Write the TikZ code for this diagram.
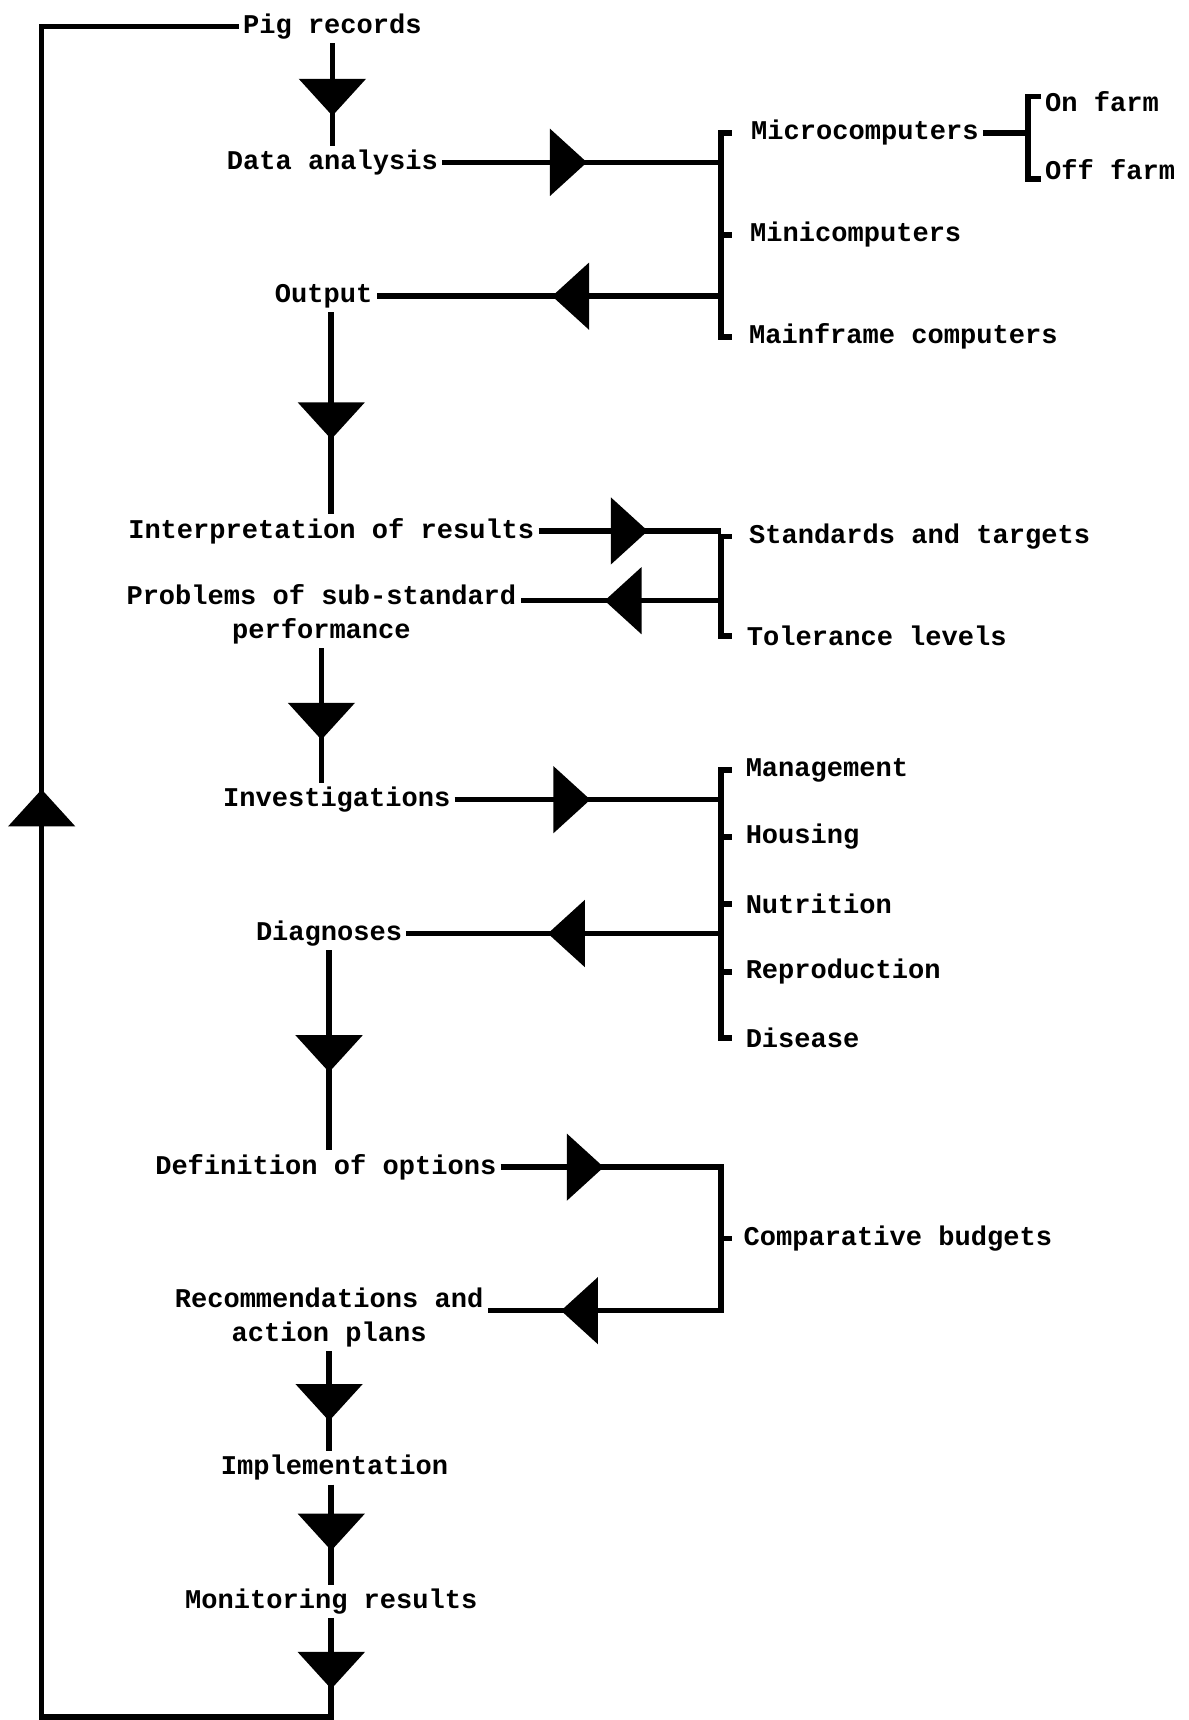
\documentclass[tikz,border=0pt]{standalone}
\usepackage{fontspec}
\setmonofont{Liberation Mono}
\usetikzlibrary{arrows.meta,calc,decorations.markings}

\begin{document}
\begin{tikzpicture}[x=0.1097mm,y=-0.1097mm]

		\tikzstyle{every node}=[font=\ttfamily\bfseries\fontsize{7.7}{9.7}\selectfont, inner sep=1pt]
		\tikzstyle{line}=[line width=1.6pt]
		\tikzstyle{item}=[anchor=west]
		\tikzset{tri/.tip={Triangle[length=3.7mm,width=6.6mm]},
			flow/.style={line, postaction={decorate}, decoration={markings, mark=at position #1 with {\arrow{tri}}}},
			flowtwo/.style 2 args={line, postaction={decorate}, decoration={markings,
					mark=at position #1 with {\arrow{tri}}, mark=at position #2 with {\arrow{tri}}}}}

		\useasboundingbox (0,0) rectangle (1083,1568);

		% main column
		\node (pig) at (303,24) {Pig records};
		\node (data) at (303,148) {Data analysis};
		\node (out) at (295,270) {Output};
		\node (interp) at (302,484) {Interpretation of results};
		\node[align=center] (prob) at (293,560) {Problems of sub-standard\\performance};
		\node (invest) at (307,729) {Investigations};
		\node (diag) at (300,851) {Diagnoses};
		\node (defn) at (297,1064) {Definition of options};
		\node[align=center] (recom) at (300,1201) {Recommendations and\\action plans};
		\node (impl) at (305,1338) {Implementation};
		\node (monit) at (302,1460) {Monitoring results};

		% side lists
		\node[item] (micro) at (681,121) {Microcomputers};
		\node[item] (mini) at (680,214) {Minicomputers};
		\node[item] (mainf) at (679,307) {Mainframe computers};
		\node[item] (onf) at (949,93) {On farm};
		\node[item] (offf) at (949,155) {Off farm};
		\node[item] (std) at (679,489) {Standards and targets};
		\node[item] (tol) at (677,580) {Tolerance levels};
		\node[item] (mgmt) at (676,702) {Management};
		\node[item] (hous) at (676,763) {Housing};
		\node[item] (nutr) at (676,824) {Nutrition};
		\node[item] (repro) at (676,886) {Reproduction};
		\node[item] (dis) at (676,946) {Disease};
		\node[item] (budg) at (674,1129) {Comparative budgets};

		\coordinate (b1) at (657,0);
		\coordinate (t1) at (667,0);
		\coordinate (b2) at (937,0);
		\coordinate (t2) at (949,0);
		\coordinate (loop) at (38,1565);
		\coordinate (pl) at ($(prob.north east)!0.3!(prob.south east)$);
		\coordinate (rl) at ($(recom.north east)!0.4!(recom.south east)$);

		% downward flow
		\draw[flow=0.71] (pig.south) -- (pig.south |- data.north);
		\draw[flow=0.63] (out.south -| interp.north) -- (interp.north);
		\draw[flow=0.68] (prob.south) -- (prob.south |- invest.north);
		\draw[flow=0.61] (diag.south) -- (diag.south |- defn.north);
		\draw[flow=0.70] (recom.south) -- (recom.south |- impl.north);
		\draw[flow=0.66] (monit.north |- impl.south) -- (monit.north);
		\draw[flowtwo={0.031}{0.578}] (monit.south) -- (monit.south |- loop) -- (loop) -- (loop |- pig.west) -- (pig.west);

		% computers
		\draw[flow=0.52] (data.east) -- (data.east -| b1);
		\draw[flow=0.49] (out.east -| b1) -- (out.east);
		\draw[line] (micro.west -| t1) -- (micro.west -| b1) -- (mainf.west -| b1) -- (mainf.west -| t1);
		\draw[line] (mini.west -| b1) -- (mini.west -| t1);
		\draw[line] (micro.east) -- (micro.east -| b2);
		\draw[line] ([yshift=0.55mm]onf.west -| t2) -- ([yshift=0.55mm]onf.west -| b2) -- ([yshift=-0.9mm]offf.west -| b2) -- ([yshift=-0.9mm]offf.west -| t2);

		% standards
		\draw[flow=0.60] (interp.east) -- (interp.east -| b1);
		\draw[flow=0.58] (pl -| b1) -- (pl);
		\draw[line] (std.west -| t1) -- (std.west -| b1) -- (tol.west -| b1) -- (tol.west -| t1);

		% investigations
		\draw[flow=0.51] (invest.east) -- (invest.east -| b1);
		\draw[flow=0.55] (diag.east -| b1) -- (diag.east);
		\draw[line] (mgmt.west -| t1) -- (mgmt.west -| b1) -- (dis.west -| b1) -- (dis.west -| t1);
		\foreach \n in {hous,nutr,repro}
			\draw[line] (\n.west -| b1) -- (\n.west -| t1);

		% budgets
		\draw[flowtwo={0.173}{0.877}] (defn.east) -- (defn.east -| b1) -- (rl -| b1) -- (rl);
		\draw[line] (budg.west -| b1) -- (budg.west -| t1);

\end{tikzpicture}
\end{document}
